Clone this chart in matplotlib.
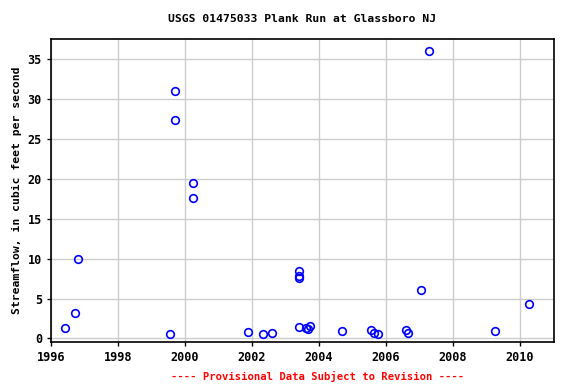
import matplotlib
matplotlib.use("Agg")
import matplotlib.pyplot as plt

# sample dates (decimal years) and streamflow, cfs
dates = [1996.42, 1996.72, 1996.80, 1999.55, 1999.70, 1999.70, 2000.24, 2000.24,
         2001.88, 2002.33, 2002.60, 2003.40, 2003.40, 2003.42, 2003.40, 2003.62,
         2003.68, 2003.74, 2004.70, 2005.55, 2005.65, 2005.75, 2006.60, 2006.66,
         2007.05, 2007.30, 2009.25, 2010.27]
flow = [1.3, 3.2, 10.0, 0.5, 31.0, 27.4, 19.5, 17.6,
        0.8, 0.5, 0.65, 8.4, 7.8, 7.6, 1.4, 1.25,
        1.2, 1.55, 0.9, 1.0, 0.7, 0.6, 1.1, 0.7,
        6.1, 36.0, 0.9, 4.3]

x_ticks = [1996, 1998, 2000, 2002, 2004, 2006, 2008, 2010]
y_ticks = [0, 5, 10, 15, 20, 25, 30, 35]

font = "DejaVu Sans Mono"

fig = plt.figure(figsize=(5.76, 3.84), dpi=100)
ax = fig.add_axes([51 / 576, 1 - 342 / 384, 503 / 576, 303 / 384])

ax.plot(dates, flow, linestyle="none", marker="o", markersize=5.5,
        markerfacecolor="none", markeredgecolor="blue", markeredgewidth=1.2)

ax.set_xlim(1996, 2011.02)
ax.set_ylim(-0.45, 37.55)
ax.set_xticks(x_ticks)
ax.set_yticks(y_ticks)
ax.grid(True, color="#cccccc", linewidth=1)
ax.set_axisbelow(True)
for s in ax.spines.values():
    s.set_linewidth(1.2)
ax.tick_params(length=3, width=1, labelsize=8.5)
for lab in ax.get_xticklabels() + ax.get_yticklabels():
    lab.set_fontfamily(font)
    lab.set_fontweight("bold")

ax.set_ylabel("Streamflow, in cubic feet per second", fontsize=8.2,
              fontfamily=font, fontweight="bold")
fig.text(302 / 576, 1 - 19 / 384, "USGS 01475033 Plank Run at Glassboro NJ",
         ha="center", va="center", fontsize=8.2, fontfamily=font, fontweight="bold")
fig.text(318 / 576, 1 - 376 / 384, "---- Provisional Data Subject to Revision ----",
         ha="center", va="center", fontsize=7.6, fontfamily=font, fontweight="bold",
         color="red")

fig.savefig("out.png", dpi=100)
